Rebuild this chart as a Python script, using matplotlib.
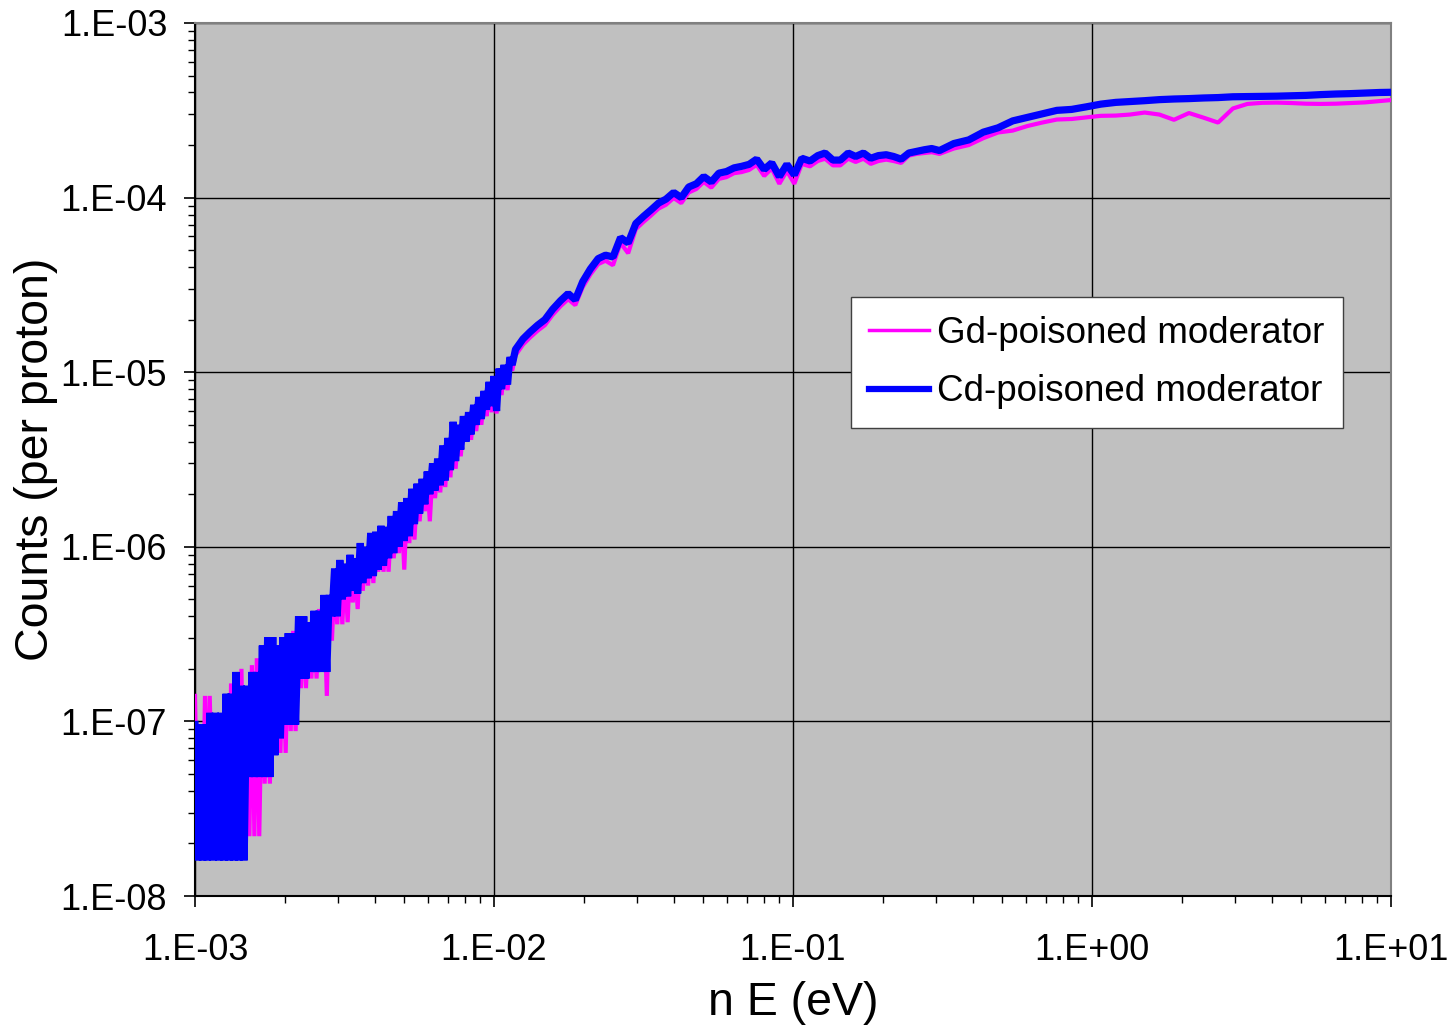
import matplotlib
matplotlib.use("Agg")
import matplotlib.pyplot as plt
import numpy as np
from matplotlib.ticker import LogLocator, FuncFormatter, NullFormatter

plt.rcParams['font.family'] = ['Liberation Sans', 'DejaVu Sans']

# neutron energy bins, in meV
energy_mev = [
    1.00, 1.02, 1.04, 1.06, 1.08, 1.10, 1.12, 1.15, 1.17, 1.20,
    1.22, 1.25, 1.27, 1.30, 1.32, 1.35, 1.37, 1.40, 1.43, 1.46,
    1.49, 1.52, 1.55, 1.58, 1.61, 1.64, 1.68, 1.71, 1.75, 1.78,
    1.82, 1.85, 1.89, 1.93, 1.97, 2.01, 2.05, 2.09, 2.13, 2.17,
    2.22, 2.26, 2.31, 2.35, 2.40, 2.45, 2.50, 2.55, 2.60, 2.65,
    2.70, 2.76, 2.81, 2.87, 2.93, 2.99,
    3.05, 3.11, 3.17, 3.24, 3.30, 3.37, 3.43, 3.50, 3.57, 3.64,
    3.72, 3.79, 3.87, 3.95, 4.02, 4.10, 4.19, 4.27, 4.36, 4.44,
    4.53, 4.62, 4.72, 4.81, 4.91, 5.01, 5.11, 5.21, 5.31, 5.42,
    5.53, 5.64, 5.75, 5.87, 5.98, 6.10, 6.23, 6.35, 6.48, 6.61,
    6.74, 6.87, 7.01, 7.15, 7.30, 7.44, 7.59, 7.74, 7.90, 8.06,
    8.22, 8.38, 8.55, 8.72, 8.90, 9.07, 9.26, 9.44, 9.63, 9.82,
    10.0, 10.2, 10.4, 10.6, 10.8, 11.1, 11.3, 11.5, 11.8,
    12.5, 13.2, 14.0, 14.8, 15.7, 16.7, 17.7, 18.7, 19.8, 21.0,
    22.3, 23.6, 25.0, 26.5, 28.1, 29.8, 31.6, 33.5, 35.5, 37.6,
    39.9, 42.3, 44.8, 47.5, 50.3, 53.3, 56.5, 59.9, 63.5, 67.3,
    71.3, 75.6, 80.1, 84.9, 90.0, 95.4, 101, 107, 114, 121,
    128, 136, 144, 153, 162, 172, 182, 193, 205, 217,
    230, 244, 259, 275, 291, 309,
    345, 387, 433, 485, 543, 608, 681, 763, 855, 957,
    1070, 1200, 1340, 1500, 1680, 1880, 2110, 2360, 2640, 2960,
    3310, 3710, 4150, 4650, 5200, 5830, 6530, 7310, 8190, 9170,
    10000,
]

gd_counts = [
    1.4e-7, 2.2e-8, 6.6e-8, 2.2e-8, 1.4e-7, 2.2e-8, 1.4e-7, 2.2e-8, 8.8e-8, 2.2e-8,
    1.1e-7, 2.2e-8, 1.1e-7, 2.2e-8, 1.65e-7, 2.2e-8, 1.3e-7, 2.2e-8, 2.0e-7, 2.2e-8,
    1.3e-7, 2.2e-8, 2.1e-7, 2.2e-8, 2.3e-7, 2.2e-8, 2.2e-7, 4.4e-8, 2.6e-7, 4.4e-8,
    2.8e-7, 6.6e-8, 2.6e-7, 6.6e-8, 2.8e-7, 6.6e-8, 3.0e-7, 8.8e-8, 3.3e-7, 8.8e-8,
    3.5e-7, 1.55e-7, 3.9e-7, 1.55e-7, 3.7e-7, 1.76e-7, 4.2e-7, 1.76e-7, 4.4e-7, 2.2e-7,
    5.0e-7, 1.4e-7, 5.0e-7, 2.9e-7, 6.6e-7, 3.6e-7,
    7.6e-7, 3.6e-7, 7.4e-7, 3.7e-7, 8.2e-7, 4.8e-7, 8.0e-7, 4.4e-7, 9.5e-7, 5.6e-7,
    9.2e-7, 6.0e-7, 1.08e-6, 6.2e-7, 1.1e-6, 7.2e-7, 1.2e-6, 7.2e-7, 1.18e-6, 7.2e-7,
    1.35e-6, 8.6e-7, 1.45e-6, 9.2e-7, 1.62e-6, 7.4e-7, 1.7e-6, 1.05e-6, 1.95e-6, 1.1e-6,
    2.1e-6, 1.4e-6, 2.2e-6, 1.6e-6, 2.45e-6, 1.4e-6, 2.7e-6, 1.9e-6, 2.9e-6, 2.05e-6,
    3.4e-6, 2.2e-6, 3.8e-6, 2.5e-6, 4.7e-6, 2.8e-6, 4.5e-6, 3.3e-6, 5.0e-6, 4.0e-6,
    5.3e-6, 4.1e-6, 5.9e-6, 4.6e-6, 6.5e-6, 5.0e-6, 7.0e-6, 5.6e-6, 8.0e-6, 5.9e-6,
    8.6e-6, 5.8e-6, 9.5e-6, 7.4e-6, 1.0e-5, 7.9e-6, 1.12e-5, 1.02e-5, 1.25e-5,
    1.44e-5, 1.58e-5, 1.73e-5, 1.86e-5, 2.13e-5, 2.39e-5, 2.62e-5, 2.42e-5, 3.07e-5, 3.63e-5,
    4.16e-5, 4.35e-5, 4.1e-5, 5.5e-5, 4.8e-5, 6.6e-5, 7.25e-5, 7.9e-5, 8.65e-5, 9.1e-5,
    9.95e-5, 9.3e-5, 1.07e-4, 1.12e-4, 1.23e-4, 1.14e-4, 1.28e-4, 1.31e-4, 1.38e-4, 1.4e-4,
    1.44e-4, 1.54e-4, 1.33e-4, 1.47e-4, 1.2e-4, 1.42e-4, 1.2e-4, 1.56e-4, 1.51e-4, 1.62e-4,
    1.67e-4, 1.53e-4, 1.53e-4, 1.67e-4, 1.6e-4, 1.67e-4, 1.56e-4, 1.62e-4, 1.65e-4, 1.62e-4,
    1.58e-4, 1.74e-4, 1.78e-4, 1.8e-4, 1.82e-4, 1.78e-4,
    1.91e-4, 2.0e-4, 2.19e-4, 2.36e-4, 2.42e-4, 2.57e-4, 2.69e-4, 2.8e-4, 2.82e-4, 2.88e-4,
    2.94e-4, 2.95e-4, 2.99e-4, 3.07e-4, 2.99e-4, 2.79e-4, 3.05e-4, 2.87e-4, 2.69e-4, 3.24e-4,
    3.44e-4, 3.49e-4, 3.5e-4, 3.48e-4, 3.45e-4, 3.44e-4, 3.45e-4, 3.48e-4, 3.51e-4, 3.57e-4,
    3.62e-4,
]

cd_counts = [
    9.6e-8, 1.6e-8, 9.6e-8, 1.6e-8, 9.6e-8, 1.6e-8, 1.12e-7, 1.6e-8, 1.12e-7, 1.6e-8,
    1.12e-7, 1.6e-8, 1.44e-7, 1.6e-8, 1.44e-7, 1.6e-8, 1.92e-7, 1.6e-8, 1.6e-7, 1.6e-8,
    1.6e-7, 4.8e-8, 1.92e-7, 4.8e-8, 1.92e-7, 4.8e-8, 2.72e-7, 4.8e-8, 3.04e-7, 4.8e-8,
    3.04e-7, 6.4e-8, 2.72e-7, 8.0e-8, 3.04e-7, 9.6e-8, 3.2e-7, 9.6e-8, 3.2e-7, 9.6e-8,
    4.0e-7, 1.76e-7, 4.0e-7, 1.76e-7, 3.7e-7, 1.92e-7, 4.3e-7, 1.92e-7, 4.3e-7, 1.92e-7,
    5.3e-7, 1.92e-7, 5.3e-7, 4.0e-7, 7.5e-7, 4.0e-7,
    8.4e-7, 5.0e-7, 8.0e-7, 5.2e-7, 9.0e-7, 5.6e-7, 8.6e-7, 5.4e-7, 1.05e-6, 6.2e-7,
    1.0e-6, 6.6e-7, 1.2e-6, 6.8e-7, 1.22e-6, 7.4e-7, 1.32e-6, 7.8e-7, 1.3e-6, 8.6e-7,
    1.5e-6, 9.2e-7, 1.6e-6, 1.0e-6, 1.8e-6, 1.08e-6, 1.9e-6, 1.15e-6, 2.15e-6, 1.35e-6,
    2.3e-6, 1.55e-6, 2.45e-6, 1.75e-6, 2.7e-6, 2.0e-6, 3.0e-6, 2.1e-6, 3.2e-6, 2.25e-6,
    3.8e-6, 2.4e-6, 4.2e-6, 2.75e-6, 5.2e-6, 3.1e-6, 5.0e-6, 3.6e-6, 5.6e-6, 4.0e-6,
    5.9e-6, 4.4e-6, 6.5e-6, 5.0e-6, 7.2e-6, 5.4e-6, 7.8e-6, 6.1e-6, 8.8e-6, 6.4e-6,
    9.5e-6, 6.0e-6, 1.05e-5, 8.0e-6, 1.1e-5, 8.5e-6, 1.22e-5, 1.1e-5, 1.35e-5,
    1.55e-5, 1.70e-5, 1.86e-5, 2.0e-5, 2.29e-5, 2.57e-5, 2.82e-5, 2.6e-5, 3.3e-5, 3.9e-5,
    4.47e-5, 4.68e-5, 4.57e-5, 5.9e-5, 5.5e-5, 7.1e-5, 7.8e-5, 8.5e-5, 9.3e-5, 9.8e-5,
    1.07e-4, 1.0e-4, 1.15e-4, 1.2e-4, 1.32e-4, 1.23e-4, 1.38e-4, 1.41e-4, 1.48e-4, 1.51e-4,
    1.55e-4, 1.66e-4, 1.45e-4, 1.58e-4, 1.32e-4, 1.55e-4, 1.35e-4, 1.68e-4, 1.62e-4, 1.74e-4,
    1.8e-4, 1.64e-4, 1.64e-4, 1.8e-4, 1.72e-4, 1.8e-4, 1.68e-4, 1.74e-4, 1.76e-4, 1.72e-4,
    1.66e-4, 1.8e-4, 1.84e-4, 1.88e-4, 1.91e-4, 1.86e-4,
    2.04e-4, 2.14e-4, 2.37e-4, 2.51e-4, 2.75e-4, 2.88e-4, 3.02e-4, 3.16e-4, 3.2e-4, 3.31e-4,
    3.43e-4, 3.51e-4, 3.55e-4, 3.59e-4, 3.64e-4, 3.67e-4, 3.69e-4, 3.72e-4, 3.74e-4, 3.78e-4,
    3.79e-4, 3.8e-4, 3.81e-4, 3.83e-4, 3.85e-4, 3.89e-4, 3.92e-4, 3.94e-4, 3.97e-4, 4.0e-4,
    4.01e-4,
]

x_ticks = [1e-3, 1e-2, 1e-1, 1e0, 1e1]
y_ticks = [1e-8, 1e-7, 1e-6, 1e-5, 1e-4, 1e-3]


def excel_sci(v, pos=None):
    return "1.E{:+03d}".format(int(round(np.log10(v))))


energy = np.array(energy_mev) * 1e-3

fig = plt.figure(figsize=(14.51, 10.25), dpi=100)
ax = fig.add_axes([195 / 1451, 129 / 1025, 1196 / 1451, 873 / 1025])
ax.set_facecolor('#C0C0C0')

ax.plot(energy, gd_counts, color='#FF00FF', linewidth=3.0,
        solid_joinstyle='bevel', label='Gd-poisoned moderator', zorder=3)
ax.plot(energy, cd_counts, color='#0000FF', linewidth=5.2,
        solid_joinstyle='bevel', label='Cd-poisoned moderator', zorder=4)

ax.set_xscale('log')
ax.set_yscale('log')
ax.set_xlim(1e-3, 1e1)
ax.set_ylim(1e-8, 1e-3)

ax.set_xticks(x_ticks)
ax.set_yticks(y_ticks)
ax.xaxis.set_major_formatter(FuncFormatter(excel_sci))
ax.yaxis.set_major_formatter(FuncFormatter(excel_sci))
ax.xaxis.set_minor_locator(LogLocator(base=10, subs=np.arange(2, 10)))
ax.yaxis.set_minor_locator(LogLocator(base=10, subs=np.arange(2, 10)))
ax.xaxis.set_minor_formatter(NullFormatter())
ax.yaxis.set_minor_formatter(NullFormatter())

ax.tick_params(which='major', direction='out', length=8, width=1.2,
               labelsize=26, color='black')
ax.tick_params(which='minor', direction='out', length=5, width=1.0, color='black')
ax.tick_params(axis='x', which='major', pad=19)
ax.tick_params(axis='y', which='major', pad=12)

ax.grid(True, which='major', color='black', linewidth=1.0)
ax.set_axisbelow(True)

for side in ['top', 'right']:
    ax.spines[side].set_color('#808080')
    ax.spines[side].set_linewidth(1.5)
for side in ['left', 'bottom']:
    ax.spines[side].set_color('black')
    ax.spines[side].set_linewidth(1.5)

ax.set_xlabel('n E (eV)', fontsize=33.5, labelpad=9)
ax.set_ylabel('Counts (per proton)', fontsize=33.5, labelpad=2)

leg = ax.legend(loc='upper left', bbox_to_anchor=(0.5485, 0.686),
                fontsize=26.5, frameon=True, fancybox=False, framealpha=1,
                edgecolor='#404040', handlelength=1.63, handletextpad=0.2,
                labelspacing=0.65, borderpad=0.5, borderaxespad=0)
leg.get_frame().set_linewidth(1.0)
leg.get_lines()[0].set_linewidth(2.5)
leg.get_lines()[1].set_linewidth(4.5)

fig.savefig('out.png', dpi=100)
